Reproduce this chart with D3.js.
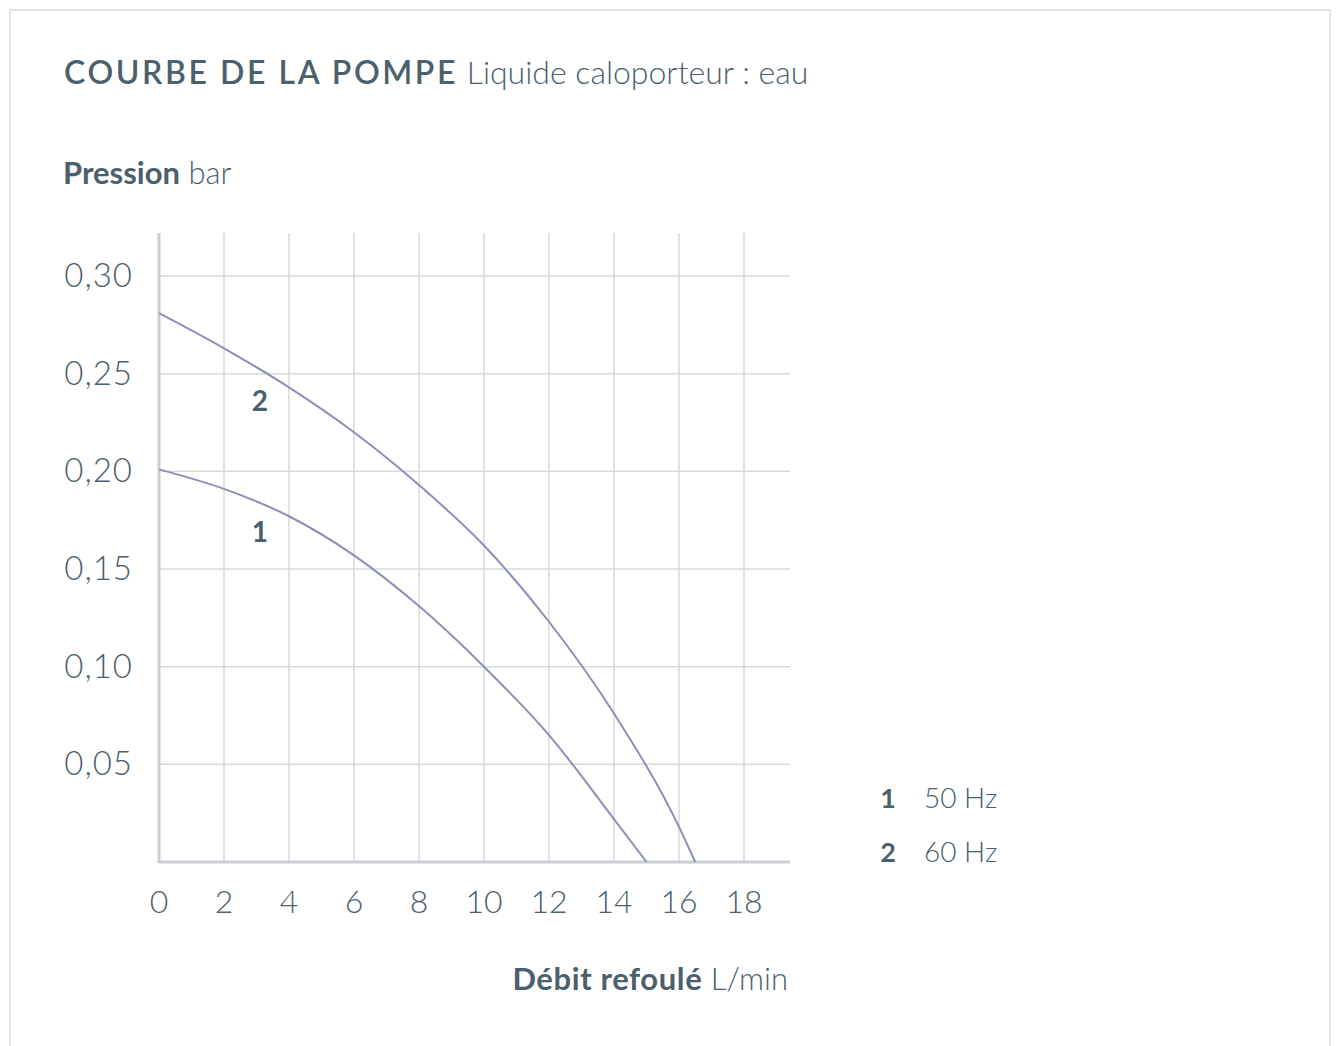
<!DOCTYPE html>
<html>
<head>
<meta charset="utf-8">
<title>Courbe de la pompe</title>
<script src="https://d3js.org/d3.v7.min.js"></script>
<style>
  body { margin: 0; background: #fff; }
  text { font-family: Lato, "Open Sans", sans-serif; fill: #4b606c; }
</style>
</head>
<body>
<div id="chart"></div>
<script>

// données
const debit50 = [0, 2, 4, 6, 8, 10, 12, 14, 15];
const pression50 = [0.201, 0.191, 0.177, 0.157, 0.131, 0.100, 0.065, 0.022, 0];
const debit60 = [0, 2, 4, 6, 8, 10, 12, 14, 16, 16.5];
const pression60 = [0.281, 0.263, 0.243, 0.220, 0.193, 0.162, 0.123, 0.076, 0.018, 0];

const xTicks = [0, 2, 4, 6, 8, 10, 12, 14, 16, 18];
const yTicks = [0.05, 0.10, 0.15, 0.20, 0.25, 0.30];
const curveLabels = ["1", "2"];
const legendNames = ["50 Hz", "60 Hz"];

const width = 1338, height = 1046;
const plot = { left: 159, right: 790, top: 233, bottom: 862 };

const svg = d3.select("#chart").append("svg")
  .attr("width", width)
  .attr("height", height);

// cadre
svg.append("rect")
  .attr("x", 10).attr("y", 10)
  .attr("width", 1320).attr("height", 1060)
  .attr("fill", "none")
  .attr("stroke", "#e3e3e3")
  .attr("stroke-width", 2);

// échelles
const x = d3.scaleLinear().domain([0, 18]).range([plot.left, 744]);
const y = d3.scaleLinear().domain([0, 0.30]).range([plot.bottom, 276]);

// titres
const title = svg.append("text").attr("x", 64).attr("y", 84).style("font-size", "32px");
title.append("tspan").style("font-weight", 600).style("letter-spacing", "2.6px").text("COURBE DE LA POMPE");
title.append("tspan").style("font-weight", 300).text(" Liquide caloporteur : eau");

const yTitle = svg.append("text").attr("x", 63).attr("y", 184).style("font-size", "31px");
yTitle.append("tspan").style("font-weight", 700).text("Pression");
yTitle.append("tspan").style("font-weight", 300).text(" bar");

const xTitle = svg.append("text").attr("x", 788).attr("y", 990)
  .attr("text-anchor", "end").style("font-size", "31px");
xTitle.append("tspan").style("font-weight", 700).style("letter-spacing", "0.6px").text("Débit refoulé");
xTitle.append("tspan").style("font-weight", 300).text(" L/min");

// grille
const grid = svg.append("g");
grid.selectAll("line.v")
  .data(xTicks.filter(d => d > 0))
  .join("line")
  .attr("x1", d => x(d)).attr("x2", d => x(d))
  .attr("y1", plot.top).attr("y2", plot.bottom)
  .attr("stroke", "#d6dadd").attr("stroke-width", 1.5);
grid.selectAll("line.h")
  .data(yTicks)
  .join("line")
  .attr("x1", plot.left).attr("x2", plot.right)
  .attr("y1", d => y(d)).attr("y2", d => y(d))
  .attr("stroke", "#d6dadd").attr("stroke-width", 1.5);

// axes
svg.append("line")
  .attr("x1", plot.left).attr("x2", plot.left)
  .attr("y1", plot.top).attr("y2", plot.bottom + 1)
  .attr("stroke", "#c9ced3").attr("stroke-width", 3);
svg.append("line")
  .attr("x1", plot.left).attr("x2", plot.right)
  .attr("y1", plot.bottom).attr("y2", plot.bottom)
  .attr("stroke", "#c9ced3").attr("stroke-width", 3);

// étiquettes des axes
svg.append("g").selectAll("text")
  .data(yTicks)
  .join("text")
  .attr("x", 133)
  .attr("y", d => y(d) + 11)
  .attr("text-anchor", "end")
  .style("font-size", "33px").style("font-weight", 300)
  .style("letter-spacing", "1px")
  .text(d => d3.format(".2f")(d).replace(".", ","));

svg.append("g").selectAll("text")
  .data(xTicks)
  .join("text")
  .attr("x", d => x(d))
  .attr("y", 913)
  .attr("text-anchor", "middle")
  .style("font-size", "32px").style("font-weight", 300)
  .text(d => d);

// courbes
const line = d3.line()
  .x(d => x(d[0]))
  .y(d => y(d[1]))
  .curve(d3.curveMonotoneX);

const series = [
  d3.zip(debit50, pression50),
  d3.zip(debit60, pression60)
];

svg.append("g").selectAll("path")
  .data(series)
  .join("path")
  .attr("d", line)
  .attr("fill", "none")
  .attr("stroke", "#8b8fb9")
  .attr("stroke-width", 2);

// numéros des courbes
const labelPos = [[3.1, 0.164], [3.1, 0.231]];
svg.append("g").selectAll("text")
  .data(curveLabels)
  .join("text")
  .attr("x", (d, i) => x(labelPos[i][0]))
  .attr("y", (d, i) => y(labelPos[i][1]))
  .attr("text-anchor", "middle")
  .style("font-size", "28px").style("font-weight", 700)
  .text(d => d);

// légende
const legend = svg.append("g").selectAll("g")
  .data(legendNames)
  .join("g")
  .attr("transform", (d, i) => `translate(0, ${808 + i * 54})`);
legend.append("text")
  .attr("x", 896).attr("text-anchor", "end")
  .style("font-size", "27px").style("font-weight", 700)
  .text((d, i) => curveLabels[i]);
legend.append("text")
  .attr("x", 924)
  .style("font-size", "28px").style("font-weight", 300)
  .text(d => d);

</script>
</body>
</html>
